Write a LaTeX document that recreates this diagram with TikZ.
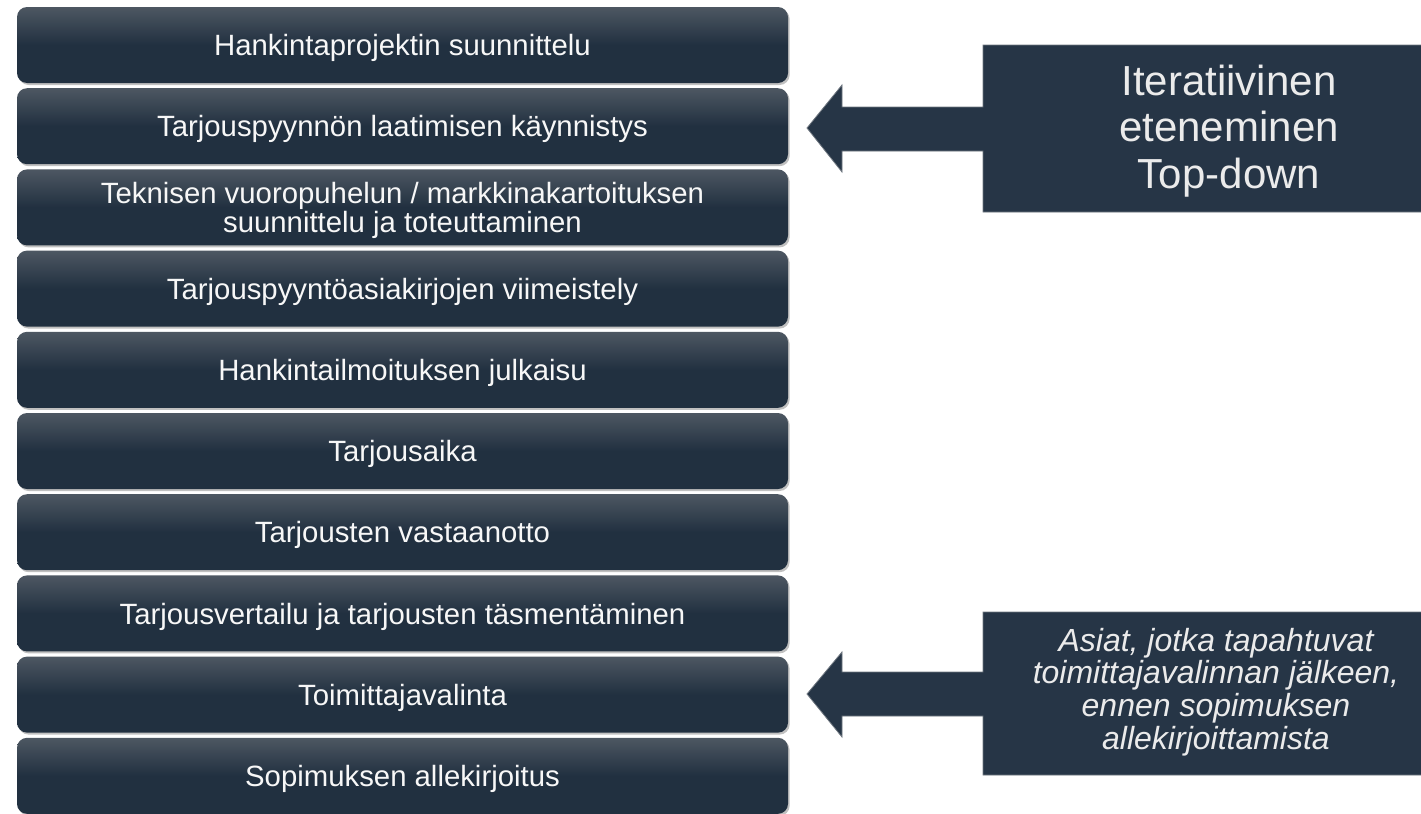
\documentclass[tikz,border=0pt]{standalone}
\usepackage{fontspec}
\setmainfont{Liberation Sans}
\usetikzlibrary{shadows}
\definecolor{boxdark}{HTML}{213040}
\definecolor{boxlight}{HTML}{4D5762}
\definecolor{callfill}{HTML}{263546}
\definecolor{callline}{HTML}{6F7780}
\pgfdeclareverticalshading{boxshade}{100bp}{color(0bp)=(boxdark); color(25bp)=(boxdark); color(50bp)=(boxdark); color(75bp)=(boxlight); color(100bp)=(boxlight)}
\begin{document}
\begin{tikzpicture}[x=0.75pt,y=-0.75pt,
  stepbox/.style={rounded corners=7.5pt, shade, shading=boxshade,
    minimum width=578.25pt, minimum height=57pt, inner sep=0pt,
    drop shadow={shadow xshift=1.2pt, shadow yshift=-1.5pt, opacity=0.35, fill=black!70}},
  steptext/.style={inner sep=0pt, text=white!97!black, font=\fontsize{22}{22}\selectfont, align=center},
  calloutshape/.style={fill=callfill, draw=callline, line width=0.6pt, line join=miter},
  callouttext/.style={text=white!92!black, align=center}
]
\useasboundingbox[fill=white] (0,0) rectangle (1421,814);

\foreach \t [count=\i from 0] in {
  Hankintaprojektin suunnittelu,
  Tarjouspyynnön laatimisen käynnistys,
  {Teknisen vuoropuhelun / markkinakartoituksen\\suunnittelu ja toteuttaminen},
  Tarjouspyyntöasiakirjojen viimeistely,
  Hankintailmoituksen julkaisu,
  Tarjousaika,
  Tarjousten vastaanotto,
  Tarjousvertailu ja tarjousten täsmentäminen,
  Toimittajavalinta,
  Sopimuksen allekirjoitus}
{
  \node[stepbox] (s\i) at (402.5, 45+81.2*\i) {};
  \node[steptext] (t\i) at ([yshift=-2.4pt]s\i.center) {\t};
}

% callout 1
\path[calloutshape] (983,45) -- (1430,45) -- (1430,212) -- (983,212) -- (983,151)
  -- (842,151) -- (842,172) -- (807,128) -- (842,85) -- (842,107) -- (983,107) -- cycle;
\node[callouttext, font=\fontsize{31.5}{35}\selectfont] (c1) at (1229,131)
  {Iteratiivinen\\eteneminen\\Top-down};

% callout 2
\path[calloutshape] (983,612) -- (1430,612) -- (1430,775) -- (983,775) -- (983,716)
  -- (842,716) -- (842,737) -- (807,694) -- (842,652) -- (842,672) -- (983,672) -- cycle;
\node[callouttext, font=\itshape\fontsize{24}{24.5}\selectfont] (c2) at (1216,692)
  {Asiat, jotka tapahtuvat\\toimittajavalinnan jälkeen,\\ennen sopimuksen\\allekirjoittamista};
\end{tikzpicture}
\end{document}
